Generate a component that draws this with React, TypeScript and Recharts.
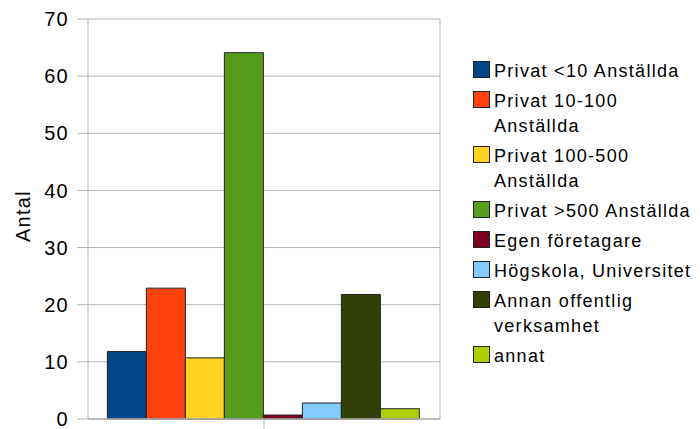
import React from 'react';
import { BarChart, Bar, XAxis, YAxis, CartesianGrid, Legend } from 'recharts';

const seriesNames = [
  'Privat <10 Anställda',
  'Privat 10-100 Anställda',
  'Privat 100-500 Anställda',
  'Privat >500 Anställda',
  'Egen företagare',
  'Högskola, Universitet',
  'Annan offentlig verksamhet',
  'annat',
];
const seriesValues = [11.8, 22.9, 10.7, 64.1, 0.7, 2.8, 21.8, 1.8];
const seriesColors = ['#004586', '#ff420e', '#ffd320', '#579d1c', '#7e0021', '#83caff', '#314004', '#aecf00'];
const yTicks = [0, 10, 20, 30, 40, 50, 60, 70];
const categories = [''];
const yLabel = 'Antal';

const keys = seriesNames.map((_, i) => `s${i}`);
const data = categories.map((c) => {
  const row: Record<string, any> = { name: c };
  keys.forEach((k, i) => (row[k] = seriesValues[i]));
  return row;
});

const FONT = '"Liberation Sans", Arial, sans-serif';
const GRID = '#b3b3b3';

const renderLegend = () => (
  <div style={{ fontFamily: FONT, fontSize: 18, letterSpacing: '1.3px', color: '#000', width: 227 }}>
    {seriesNames.map((n, i) => (
      <div key={n} style={{ position: 'relative', lineHeight: '25px', marginBottom: 5, paddingLeft: 21 }}>
        <div
          style={{
            position: 'absolute',
            left: 0,
            top: 2,
            width: 15,
            height: 15,
            background: seriesColors[i],
            border: '1px solid #222',
          }}
        />
        {n}
      </div>
    ))}
  </div>
);

const AxisLabel = (props: any) => {
  const x = 30;
  const y = 216;
  return (
    <text
      x={x}
      y={y}
      transform={`rotate(-90, ${x}, ${y})`}
      textAnchor="middle"
      fontFamily={FONT}
      fontSize={20}
      letterSpacing={1.3}
      fill="#000"
    >
      {yLabel}
    </text>
  );
};

export default function App() {
  return (
    <div style={{ position: 'absolute', left: 0, top: 0, background: '#fff' }}>
      <BarChart
        width={700}
        height={429}
        data={data}
        margin={{ top: 19, right: 260, bottom: 0, left: 0 }}
        barCategoryGap="5.5%"
        barGap={0}
      >
        <CartesianGrid stroke={GRID} vertical={true} verticalPoints={[440]} />
        <XAxis
          dataKey="name"
          height={10}
          axisLine={{ stroke: GRID, strokeWidth: 1.5 }}
          tickLine={{ stroke: GRID }}
          tickSize={10}
          tickFormatter={() => ''}
        />
        <YAxis
          width={88}
          domain={[0, 70]}
          ticks={yTicks}
          interval={0}
          axisLine={{ stroke: GRID }}
          tickLine={{ stroke: GRID }}
          tickSize={11}
          tickMargin={8}
          tick={{ fill: '#000', fontSize: 20, fontFamily: FONT, letterSpacing: 1.3 }}
          label={<AxisLabel />}
        />
        <Legend
          layout="vertical"
          align="center"
          verticalAlign="middle"
          content={renderLegend}
          wrapperStyle={{ left: 473, top: 58.5, width: 227, height: 'auto' }}
        />
        {keys.map((k, i) => (
          <Bar
            key={k}
            dataKey={k}
            name={seriesNames[i]}
            fill={seriesColors[i]}
            stroke="#222"
            strokeWidth={1}
            isAnimationActive={false}
          />
        ))}
      </BarChart>
    </div>
  );
}
